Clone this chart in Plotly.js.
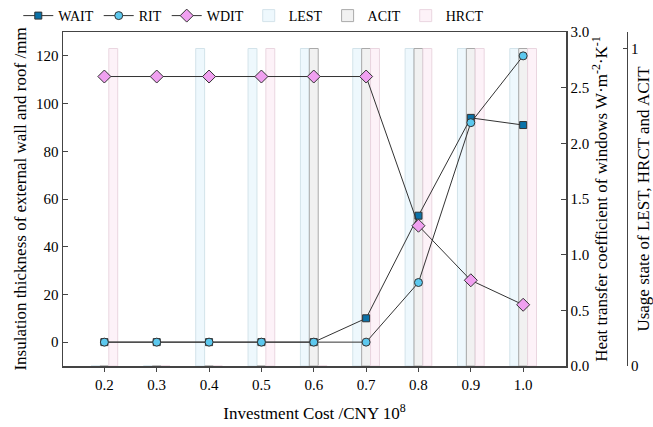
<!DOCTYPE html>
<html>
<head>
<meta charset="utf-8">
<script src="https://cdn.plot.ly/plotly-3.0.1.min.js"></script>
<style>
  html, body { margin: 0; padding: 0; background: #fff; }
  #chart { width: 653px; height: 427px; }
</style>
</head>
<body>
<div id="chart"></div>
<script>
// Investment cost levels (CNY 10^8)
const investmentCost = [0.2, 0.3, 0.4, 0.5, 0.6, 0.7, 0.8, 0.9, 1.0];
const costTickLabels = ['0.2', '0.3', '0.4', '0.5', '0.6', '0.7', '0.8', '0.9', '1.0'];

// Insulation thickness (mm)
const waitThickness = [0, 0, 0, 0, 0, 10, 53, 94, 91];
const ritThickness = [0, 0, 0, 0, 0, 0, 25, 92, 120];

// Window heat transfer coefficient (W·m^-2·K^-1)
const wditCoefficient = [2.6, 2.6, 2.6, 2.6, 2.6, 2.6, 1.26, 0.77, 0.55];

// Usage state of the technologies (0 = off, 1 = on)
const lestUsage = [0, 0, 1, 1, 1, 1, 1, 1, 1];
const acitUsage = [0, 0, 0, 0, 1, 1, 1, 1, 1];
const hrctUsage = [1, 0, 0, 1, 0, 1, 1, 1, 1];

const serif = "'Liberation Serif', 'Times New Roman', Times, serif";
const axisColor = '#444';
const lineColor = '#333';
const barWidth = 0.017;

function usageBars(name, values, offset, fill, edge, rank) {
  return {
    type: 'bar', name: name, x: investmentCost, y: values,
    xaxis: 'x', yaxis: 'y',
    width: barWidth, offset: offset,
    marker: { color: fill, line: { color: edge, width: 1 } },
    legendrank: rank, hoverinfo: 'skip'
  };
}

function markerLine(name, values, axis, symbol, color, size, rank) {
  return {
    type: 'scatter', mode: 'lines+markers', name: name,
    x: investmentCost, y: values, xaxis: 'x', yaxis: axis,
    line: { color: lineColor, width: 1 },
    marker: { symbol: symbol, color: color, size: size, line: { color: lineColor, width: 1 } },
    legendrank: rank, cliponaxis: false
  };
}

const traces = [
  usageBars('LEST', lestUsage, -1.5 * barWidth, '#eef8fd', '#d3e3ea', 4),
  usageBars('ACIT', acitUsage, -0.5 * barWidth, '#f1f1f1', '#a9a9a9', 5),
  usageBars('HRCT', hrctUsage, 0.5 * barWidth, '#fdf2f8', '#ead6e0', 6),
  markerLine('WAIT', waitThickness, 'y2', 'square', '#0b72a8', 7, 1),
  markerLine('RIT', ritThickness, 'y2', 'circle', '#5cc8ee', 8, 2),
  markerLine('WDIT', wditCoefficient, 'y3', 'diamond', '#f0a0f0', 10, 3)
];

const tickFont = { family: serif, size: 15, color: '#000' };
const titleFont = { family: serif, size: 17, color: '#000' };

const layout = {
  width: 653, height: 427,
  margin: { l: 63, r: 26, t: 30, b: 61 },
  paper_bgcolor: '#fff', plot_bgcolor: '#fff',
  barmode: 'overlay',
  showlegend: true,
  legend: {
    orientation: 'h', xref: 'container', yref: 'container',
    x: 0.028, y: 1, xanchor: 'left', yanchor: 'top',
    font: { family: serif, size: 14, color: '#000' },
    traceorder: 'normal', itemwidth: 30, bgcolor: 'rgba(0,0,0,0)'
  },
  xaxis: {
    domain: [0, 0.892], range: [0.121, 1.082],
    tickvals: investmentCost, ticktext: costTickLabels,
    ticks: 'outside', ticklen: 4, tickcolor: axisColor,
    showline: true, mirror: true, linecolor: axisColor, linewidth: 1.5,
    showgrid: false, zeroline: false, tickfont: tickFont,
    title: { text: 'Investment Cost /CNY 10<sup>8</sup>', font: titleFont, standoff: 15 }
  },
  // usage state axis (outermost right)
  yaxis: {
    anchor: 'free', position: 1, side: 'right',
    range: [0, 1.052], tickvals: [0, 1], ticktext: ['0', '1'],
    ticks: 'inside', ticklen: 4, tickcolor: axisColor,
    showline: true, linecolor: axisColor, linewidth: 1,
    showgrid: false, zeroline: false, tickfont: tickFont,
    title: { text: 'Usage state of LEST, HRCT and ACIT', font: titleFont, standoff: 25 }
  },
  // insulation thickness axis (left)
  yaxis2: {
    overlaying: 'y', side: 'left', anchor: 'x',
    range: [-10, 130], tickvals: [0, 20, 40, 60, 80, 100, 120],
    ticks: 'inside', ticklen: 5, tickcolor: axisColor,
    showline: true, linecolor: axisColor, linewidth: 1.5,
    showgrid: false, zeroline: false, tickfont: tickFont,
    title: { text: 'Insulation thickness of external wall and roof /mm', font: titleFont, standoff: 5 }
  },
  // window heat transfer coefficient axis (right)
  yaxis3: {
    overlaying: 'y', side: 'right', anchor: 'x',
    range: [0, 3.0], tickvals: [0, 0.5, 1, 1.5, 2, 2.5, 3], tickformat: '.1f',
    ticks: 'inside', ticklen: 5, tickcolor: axisColor,
    showline: true, linecolor: axisColor, linewidth: 1.5,
    showgrid: false, zeroline: false, tickfont: tickFont,
    title: { text: 'Heat transfer coefficient of windows W·m<sup>-2</sup>·K<sup>-1</sup>', font: titleFont, standoff: 6 }
  }
};

Plotly.newPlot('chart', traces, layout, { displayModeBar: false, staticPlot: true });
</script>
</body>
</html>
